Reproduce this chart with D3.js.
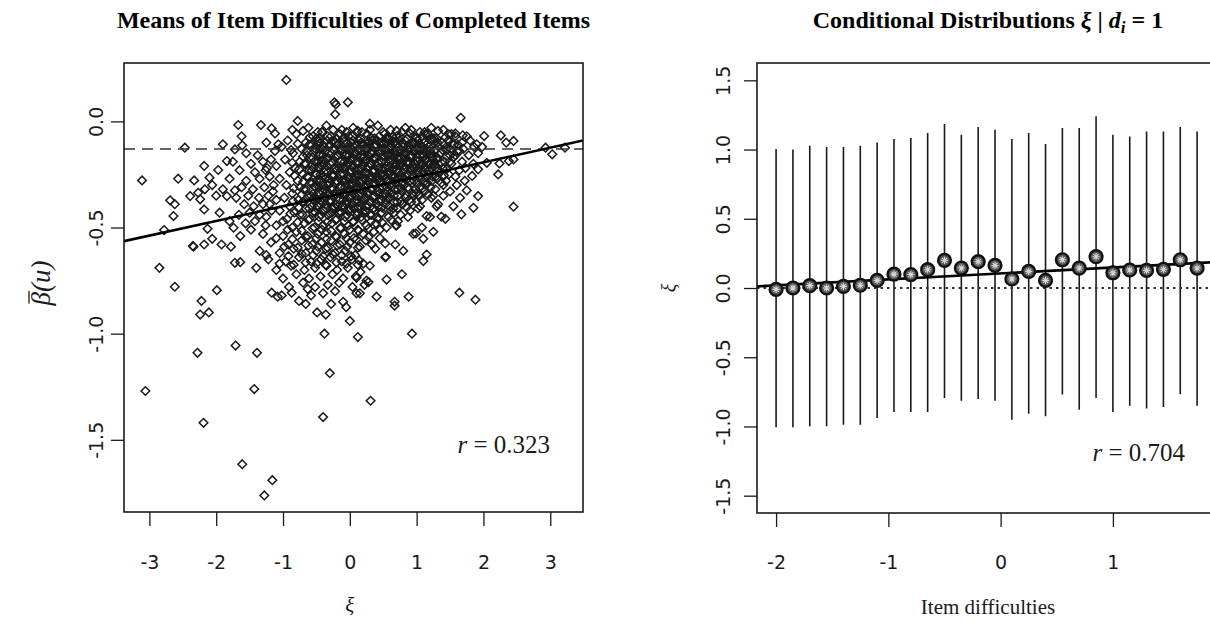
<!DOCTYPE html>
<html>
<head>
<meta charset="utf-8">
<script src="https://cdn.jsdelivr.net/npm/d3@7"></script>
<style>
  body { margin: 0; background: #fff; }
  svg { display: block; }
</style>
</head>
<body>
<svg id="fig" width="1210" height="630"></svg>
<script>
// ---------------- Left panel: mean difficulty of completed items vs. ability ----------------
const xiTicks = [-3, -2, -1, 0, 1, 2, 3];
const betaTicks = [0, -0.5, -1, -1.5];
const betaTickLabels = ["0.0", "-0.5", "-1.0", "-1.5"];
const betaReferenceLevel = -0.13;          // dashed horizontal line
const leftFitCoef = [-0.331, 0.069];        // intercept, slope of the fitted line
const leftCorrelation = "0.323";

// [xi, mean difficulty of completed items]
const itemMeanPoints = [
  // sparse points around the cloud
  [-0.95,0.195],[-0.23,0.09],[-0.21,0.08],[-0.03,0.09],[-0.22,0.033],[-1.67,-0.017],[-1.33,-0.017],
  [-1.17,-0.033],[-0.78,0.002],[-0.86,-0.04],[-1.12,-0.057],[-1.62,-0.07],[-2.47,-0.124],[-1.90,-0.108],
  [-1.61,-0.113],[-1.72,-0.132],[-1.25,-0.10],[-1.07,-0.108],[-3.11,-0.278],[-2.57,-0.27],[-2.33,-0.278],
  [-2.18,-0.21],[-1.84,-0.187],[-2.10,-0.265],[-1.97,-0.229],[-2.69,-0.372],[-2.62,-0.39],[-2.39,-0.352],
  [-2.27,-0.336],[-2.17,-0.32],[-2.06,-0.30],[-2.24,-0.367],[-2.18,-0.415],[-1.90,-0.32],[-1.84,-0.352],
  [-1.72,-0.325],[-2.64,-0.446],[-2.78,-0.512],[-2.35,-0.587],[-2.34,-0.59],[-2.18,-0.58],[-2.06,-0.553],
  [-1.92,-0.58],[-2.13,-0.506],[-1.74,-0.501],[-2.85,-0.69],[-2.62,-0.779],[-1.99,-0.795],[-2.22,-0.846],
  [-2.24,-0.91],[-2.11,-0.90],[-1.71,-1.056],[-2.28,-1.09],[-1.39,-1.09],[-1.78,-0.59],[-1.64,-0.54],
  [-1.72,-0.666],[-1.64,-0.663],[-1.17,-0.807],[-1.08,-0.826],[-0.87,-0.807],[-0.76,-0.846],[-0.63,-0.79],
  [-0.49,-0.90],[-0.36,-0.91],[-0.38,-1.0],[-0.055,-0.875],[0.0,-0.94],
  [-3.06,-1.27],[-1.43,-1.261],[-2.19,-1.42],[-1.61,-1.615],[-1.16,-1.69],[-1.28,-1.762],[-0.40,-1.393],
  [-0.30,-1.186],[0.31,-1.316],[0.12,-1.016],[0.93,-1.0],[0.67,-0.868],[1.88,-0.84],
  [1.64,-0.807],[0.78,-0.72],[0.55,-0.745],[0.28,-0.757],[0.40,-0.826],[0.67,-0.85],[0.88,-0.826],
  [0.10,-0.737],[0.10,-0.81],[1.15,-0.627],[1.10,-0.658],[0.80,-0.61],[0.54,-0.638],[0.53,-0.64],
  [0.14,-0.655],[0.68,-0.58],[0.95,-0.53],[0.99,-0.528],[1.10,-0.553],[0.70,-0.49],[0.33,-0.58],
  [0.53,-0.575],[0.45,-0.55],[1.15,-0.446],[1.37,-0.449],[1.43,-0.459],[1.67,-0.438],
  [1.66,0.017],[2.01,-0.069],[2.26,-0.066],[2.34,-0.10],[2.45,-0.092],[1.48,-0.061],[1.58,-0.057],
  [1.69,-0.066],[1.90,-0.108],[2.93,-0.124],[3.03,-0.155],[3.22,-0.124],[2.24,-0.198],[2.22,-0.25],
  [2.38,-0.187],[2.45,-0.179],[1.75,-0.325],[1.92,-0.352],[1.85,-0.407],[2.45,-0.402],[2.05,-0.195],
  [1.92,-0.226],[1.83,-0.257],[0.30,-0.011],[0.90,-0.057],[1.00,-0.077],[1.13,-0.061],
  [1.92,-0.15],[1.85,-0.20],[1.98,-0.12],[1.72,-0.28],[1.60,-0.30],[1.65,-0.36],[1.55,-0.40],
  [1.40,-0.35],[1.30,-0.40],[1.20,-0.45],[1.08,-0.50],[1.25,-0.52],
  // left arm
  [-1.55,-0.15],[-1.38,-0.16],[-1.75,-0.19],[-1.48,-0.20],[-1.30,-0.19],[-1.18,-0.18],[-1.65,-0.23],
  [-1.42,-0.24],[-1.26,-0.23],[-1.80,-0.27],[-1.55,-0.28],[-1.35,-0.27],[-1.20,-0.26],[-1.62,-0.31],
  [-1.45,-0.32],[-1.28,-0.31],[-2.00,-0.35],[-1.70,-0.36],[-1.52,-0.35],[-1.36,-0.36],[-1.58,-0.39],
  [-1.44,-0.40],[-1.30,-0.39],[-1.95,-0.43],[-1.66,-0.44],[-1.50,-0.43],[-1.80,-0.47],[-1.56,-0.48],
  [-1.42,-0.47],[-1.48,-0.51],[-1.12,-0.14],[-1.24,-0.22],[-1.14,-0.30],[-1.22,-0.35],[-1.10,-0.37],
  [-1.17,-0.42],[-1.35,-0.44],[-1.26,-0.49],
  // dense core
  [-0.62,-0.03],[-0.48,-0.05],[-0.35,-0.02],[-0.12,-0.04],[0.05,-0.03],[0.18,-0.05],[0.42,-0.02],
  [0.61,-0.04],[0.83,-0.03],[1.05,-0.05],[1.22,-0.03],[1.40,-0.04],
  [-0.80,-0.06],[-0.55,-0.07],[-0.41,-0.05],[-0.28,-0.07],[-0.15,-0.06],[-0.02,-0.07],[0.10,-0.05],
  [0.26,-0.06],[0.37,-0.08],[0.52,-0.06],[0.70,-0.07],[0.78,-0.05],[0.95,-0.07],[1.17,-0.06],
  [1.30,-0.08],[1.52,-0.06],[1.75,-0.07],
  [-0.93,-0.09],[-0.66,-0.10],[-0.50,-0.08],[-0.38,-0.10],[-0.24,-0.09],[-0.10,-0.08],[0.02,-0.10],
  [0.14,-0.09],[0.22,-0.11],[0.33,-0.09],[0.47,-0.10],[0.58,-0.08],[0.66,-0.10],[0.74,-0.09],
  [0.88,-0.11],[1.02,-0.09],[1.11,-0.10],[1.26,-0.08],[1.38,-0.10],[1.47,-0.09],[1.62,-0.11],[1.80,-0.09],
  [-1.02,-0.12],[-0.72,-0.13],[-0.58,-0.11],[-0.45,-0.13],[-0.31,-0.12],[-0.19,-0.11],[-0.06,-0.13],
  [0.06,-0.12],[0.17,-0.14],[0.28,-0.12],[0.40,-0.11],[0.53,-0.13],[0.62,-0.12],[0.71,-0.14],
  [0.80,-0.12],[0.92,-0.11],[1.00,-0.13],[1.08,-0.12],[1.20,-0.14],[1.33,-0.12],[1.45,-0.13],
  [1.56,-0.11],[1.70,-0.13],[1.86,-0.12],
  [-0.85,-0.15],[-0.64,-0.16],[-0.52,-0.14],[-0.40,-0.16],[-0.27,-0.15],[-0.13,-0.14],[-0.01,-0.16],
  [0.09,-0.15],[0.21,-0.17],[0.32,-0.15],[0.44,-0.14],[0.56,-0.16],[0.67,-0.15],[0.76,-0.17],
  [0.85,-0.15],[0.97,-0.14],[1.05,-0.16],[1.14,-0.15],[1.24,-0.17],[1.36,-0.15],[1.50,-0.16],
  [1.61,-0.14],[1.78,-0.16],
  [-0.97,-0.18],[-0.75,-0.19],[-0.60,-0.17],[-0.47,-0.19],[-0.34,-0.18],[-0.22,-0.17],[-0.08,-0.19],
  [0.03,-0.18],[0.13,-0.20],[0.25,-0.18],[0.36,-0.17],[0.48,-0.19],[0.59,-0.18],[0.70,-0.20],
  [0.82,-0.18],[0.90,-0.17],[1.02,-0.19],[1.12,-0.18],[1.21,-0.20],[1.30,-0.18],[1.42,-0.19],
  [1.55,-0.17],[1.68,-0.19],
  [-1.10,-0.21],[-0.82,-0.22],[-0.68,-0.20],[-0.55,-0.22],[-0.42,-0.21],[-0.30,-0.20],[-0.16,-0.22],
  [-0.04,-0.21],[0.08,-0.23],[0.19,-0.21],[0.30,-0.20],[0.43,-0.22],[0.55,-0.21],[0.64,-0.23],
  [0.75,-0.21],[0.86,-0.20],[0.95,-0.22],[1.07,-0.21],[1.18,-0.23],[1.27,-0.21],[1.39,-0.22],
  [1.52,-0.20],[1.73,-0.22],
  [-0.90,-0.24],[-0.70,-0.25],[-0.57,-0.23],[-0.44,-0.25],[-0.33,-0.24],[-0.20,-0.23],[-0.09,-0.25],
  [0.01,-0.24],[0.12,-0.26],[0.24,-0.24],[0.35,-0.23],[0.46,-0.25],[0.58,-0.24],[0.68,-0.26],
  [0.79,-0.24],[0.91,-0.23],[1.00,-0.25],[1.10,-0.24],[1.24,-0.26],[1.35,-0.24],[1.48,-0.25],[1.64,-0.23],
  [-1.05,-0.27],[-0.78,-0.28],[-0.63,-0.26],[-0.50,-0.28],[-0.37,-0.27],[-0.25,-0.26],[-0.12,-0.28],
  [-0.02,-0.27],[0.10,-0.29],[0.21,-0.27],[0.33,-0.26],[0.41,-0.28],[0.52,-0.27],[0.63,-0.29],
  [0.73,-0.27],[0.84,-0.26],[0.96,-0.28],[1.06,-0.27],[1.16,-0.29],[1.30,-0.27],[1.44,-0.28],[1.58,-0.26],
  [-0.95,-0.30],[-0.74,-0.31],[-0.59,-0.29],[-0.46,-0.31],[-0.32,-0.30],[-0.21,-0.29],[-0.07,-0.31],
  [0.04,-0.30],[0.16,-0.32],[0.27,-0.30],[0.38,-0.29],[0.50,-0.31],[0.61,-0.30],[0.72,-0.32],
  [0.81,-0.30],[0.93,-0.29],[1.04,-0.31],[1.14,-0.30],[1.28,-0.32],[1.40,-0.30],
  [-1.15,-0.33],[-0.86,-0.34],[-0.69,-0.32],[-0.55,-0.34],[-0.41,-0.33],[-0.28,-0.32],[-0.15,-0.34],
  [-0.03,-0.33],[0.08,-0.35],[0.20,-0.33],[0.31,-0.32],[0.44,-0.34],[0.55,-0.33],[0.66,-0.35],
  [0.78,-0.33],[0.88,-0.32],[0.99,-0.34],[1.12,-0.33],[1.25,-0.35],[1.50,-0.33],
  [-0.98,-0.36],[-0.77,-0.37],[-0.62,-0.35],[-0.49,-0.37],[-0.36,-0.36],[-0.23,-0.35],[-0.10,-0.37],
  [0.01,-0.36],[0.13,-0.38],[0.25,-0.36],[0.37,-0.35],[0.48,-0.37],[0.60,-0.36],[0.71,-0.38],
  [0.83,-0.36],[0.95,-0.35],[1.08,-0.37],[1.22,-0.36],
  [-1.20,-0.39],[-0.90,-0.40],[-0.71,-0.38],[-0.57,-0.40],[-0.44,-0.39],[-0.30,-0.38],[-0.18,-0.40],
  [-0.05,-0.39],[0.06,-0.41],[0.18,-0.39],[0.30,-0.38],[0.42,-0.40],[0.53,-0.39],[0.65,-0.41],
  [0.79,-0.39],[0.92,-0.38],[1.05,-0.40],[1.32,-0.39],
  [-1.05,-0.42],[-0.83,-0.43],[-0.66,-0.41],[-0.52,-0.43],[-0.39,-0.42],[-0.26,-0.41],[-0.13,-0.43],
  [-0.01,-0.42],[0.11,-0.44],[0.23,-0.42],[0.35,-0.41],[0.48,-0.43],[0.61,-0.42],[0.76,-0.44],
  [0.90,-0.42],[1.02,-0.41],
  [-1.25,-0.45],[-0.94,-0.46],[-0.75,-0.44],[-0.60,-0.46],[-0.46,-0.45],[-0.33,-0.44],[-0.20,-0.46],
  [-0.07,-0.45],[0.05,-0.47],[0.17,-0.45],[0.30,-0.44],[0.43,-0.46],[0.58,-0.45],[0.72,-0.47],[0.87,-0.45],
  // dense core, interleaved layer
  [-0.70,-0.045],[-0.42,-0.05],[-0.25,-0.04],[-0.05,-0.05],[0.12,-0.045],[0.30,-0.04],[0.50,-0.05],
  [0.70,-0.045],[0.92,-0.04],[1.12,-0.05],[1.32,-0.045],
  [-0.60,-0.075],[-0.46,-0.08],[-0.33,-0.07],[-0.20,-0.08],[-0.08,-0.075],[0.04,-0.07],[0.16,-0.08],
  [0.31,-0.075],[0.44,-0.07],[0.56,-0.08],[0.64,-0.075],[0.75,-0.07],[0.86,-0.08],[1.00,-0.075],
  [1.08,-0.07],[1.22,-0.08],[1.43,-0.075],[1.58,-0.07],
  [-0.78,-0.105],[-0.61,-0.11],[-0.44,-0.10],[-0.30,-0.11],[-0.17,-0.105],[-0.04,-0.10],[0.09,-0.11],
  [0.19,-0.105],[0.27,-0.10],[0.38,-0.11],[0.51,-0.105],[0.61,-0.10],[0.69,-0.11],[0.79,-0.105],
  [0.94,-0.10],[1.06,-0.11],[1.16,-0.105],[1.31,-0.10],[1.42,-0.11],[1.53,-0.105],[1.68,-0.10],
  [-0.88,-0.135],[-0.65,-0.14],[-0.51,-0.13],[-0.37,-0.14],[-0.24,-0.135],[-0.12,-0.13],[0.00,-0.14],
  [0.11,-0.135],[0.23,-0.13],[0.34,-0.14],[0.46,-0.135],[0.57,-0.13],[0.66,-0.14],[0.75,-0.135],
  [0.86,-0.13],[0.96,-0.14],[1.04,-0.135],[1.15,-0.13],[1.27,-0.14],[1.39,-0.135],[1.51,-0.13],[1.64,-0.14],
  [-0.70,-0.165],[-0.56,-0.17],[-0.45,-0.16],[-0.33,-0.17],[-0.19,-0.165],[-0.06,-0.16],[0.05,-0.17],
  [0.16,-0.165],[0.27,-0.16],[0.38,-0.17],[0.50,-0.165],[0.62,-0.16],[0.72,-0.17],[0.81,-0.165],
  [0.92,-0.16],[1.01,-0.17],[1.10,-0.165],[1.19,-0.16],[1.31,-0.17],[1.45,-0.165],[1.58,-0.16],
  [-0.86,-0.195],[-0.66,-0.20],[-0.53,-0.19],[-0.40,-0.20],[-0.27,-0.195],[-0.14,-0.19],[-0.02,-0.20],
  [0.09,-0.195],[0.20,-0.19],[0.31,-0.20],[0.42,-0.195],[0.54,-0.19],[0.65,-0.20],[0.76,-0.195],
  [0.86,-0.19],[0.97,-0.20],[1.07,-0.195],[1.17,-0.19],[1.26,-0.20],[1.37,-0.195],[1.50,-0.19],
  [-0.76,-0.225],[-0.61,-0.23],[-0.48,-0.22],[-0.36,-0.23],[-0.23,-0.225],[-0.10,-0.22],[0.02,-0.23],
  [0.14,-0.225],[0.25,-0.22],[0.37,-0.23],[0.49,-0.225],[0.60,-0.22],[0.70,-0.23],[0.81,-0.225],
  [0.91,-0.22],[1.02,-0.23],[1.13,-0.225],[1.23,-0.22],[1.33,-0.23],[1.45,-0.225],
  [-0.83,-0.255],[-0.64,-0.26],[-0.50,-0.25],[-0.39,-0.26],[-0.27,-0.255],[-0.14,-0.25],[-0.03,-0.26],
  [0.07,-0.255],[0.18,-0.25],[0.30,-0.26],[0.41,-0.255],[0.52,-0.25],[0.63,-0.26],[0.74,-0.255],
  [0.85,-0.25],[0.96,-0.26],[1.05,-0.255],[1.17,-0.25],[1.29,-0.26],[1.41,-0.255],
  [-0.70,-0.285],[-0.56,-0.29],[-0.43,-0.28],[-0.31,-0.29],[-0.18,-0.285],[-0.07,-0.28],[0.04,-0.29],
  [0.15,-0.285],[0.27,-0.28],[0.37,-0.29],[0.47,-0.285],[0.58,-0.28],[0.68,-0.29],[0.79,-0.285],
  [0.90,-0.28],[1.01,-0.29],[1.11,-0.285],[1.23,-0.28],[1.37,-0.29],
  [-0.84,-0.315],[-0.66,-0.32],[-0.52,-0.31],[-0.39,-0.32],[-0.26,-0.315],[-0.14,-0.31],[-0.01,-0.32],
  [0.10,-0.315],[0.22,-0.31],[0.33,-0.32],[0.44,-0.315],[0.56,-0.31],[0.67,-0.32],[0.77,-0.315],
  [0.87,-0.31],[0.98,-0.32],[1.09,-0.315],[1.21,-0.31],
  [-0.72,-0.345],[-0.58,-0.35],[-0.45,-0.34],[-0.32,-0.35],[-0.21,-0.345],[-0.08,-0.34],[0.03,-0.35],
  [0.14,-0.345],[0.26,-0.34],[0.37,-0.35],[0.50,-0.345],[0.61,-0.34],[0.72,-0.35],[0.84,-0.345],
  [0.94,-0.34],[1.04,-0.35],[1.17,-0.345],
  [-0.85,-0.375],[-0.69,-0.38],[-0.55,-0.37],[-0.42,-0.38],[-0.29,-0.375],[-0.16,-0.37],[-0.04,-0.38],
  [0.07,-0.375],[0.19,-0.37],[0.31,-0.38],[0.43,-0.375],[0.54,-0.37],[0.66,-0.38],[0.77,-0.375],
  [0.89,-0.37],[1.00,-0.38],
  [-0.76,-0.405],[-0.61,-0.41],[-0.48,-0.40],[-0.35,-0.41],[-0.23,-0.405],[-0.11,-0.40],[0.01,-0.41],
  [0.12,-0.405],[0.24,-0.40],[0.36,-0.41],[0.48,-0.405],[0.59,-0.40],[0.71,-0.41],[0.85,-0.405],
  [-0.89,-0.435],[-0.71,-0.44],[-0.56,-0.43],[-0.43,-0.44],[-0.30,-0.435],[-0.17,-0.43],[-0.04,-0.44],
  [0.08,-0.435],[0.20,-0.43],[0.33,-0.44],[0.46,-0.435],[0.66,-0.43],
  [-1.00,-0.47],[-0.78,-0.475],[-0.62,-0.465],[-0.47,-0.47],[-0.34,-0.475],[-0.21,-0.465],[-0.08,-0.47],
  [0.05,-0.475],[0.18,-0.465],[0.32,-0.47],[0.48,-0.475],[0.62,-0.465],
  // darkest part of the core
  [-0.47,-0.095],[-0.34,-0.09],[-0.22,-0.10],[-0.09,-0.095],[0.05,-0.09],[0.17,-0.10],[0.29,-0.095],
  [0.41,-0.09],[0.55,-0.10],[0.68,-0.095],[0.83,-0.09],[0.97,-0.10],[1.13,-0.095],[1.25,-0.09],
  [-0.53,-0.125],[-0.39,-0.12],[-0.26,-0.13],[-0.14,-0.125],[0.00,-0.12],[0.13,-0.13],[0.24,-0.125],
  [0.37,-0.12],[0.49,-0.13],[0.60,-0.125],[0.73,-0.12],[0.89,-0.13],[1.03,-0.125],[1.18,-0.12],[1.29,-0.13],
  [-0.45,-0.155],[-0.32,-0.15],[-0.18,-0.16],[-0.05,-0.155],[0.07,-0.15],[0.19,-0.16],[0.33,-0.155],
  [0.45,-0.15],[0.58,-0.16],[0.70,-0.155],[0.82,-0.15],[0.93,-0.16],[1.09,-0.155],[1.21,-0.15],
  [-0.52,-0.185],[-0.40,-0.18],[-0.27,-0.19],[-0.13,-0.185],[0.00,-0.18],[0.12,-0.19],[0.24,-0.185],
  [0.35,-0.18],[0.47,-0.19],[0.61,-0.185],[0.74,-0.18],[0.88,-0.19],[1.00,-0.185],[1.15,-0.18],[1.27,-0.19],
  [-0.46,-0.215],[-0.34,-0.21],[-0.21,-0.22],[-0.07,-0.215],[0.05,-0.21],[0.17,-0.22],[0.29,-0.215],
  [0.41,-0.21],[0.53,-0.22],[0.67,-0.215],[0.80,-0.21],[0.97,-0.22],[1.11,-0.215],
  [-0.51,-0.245],[-0.38,-0.24],[-0.25,-0.25],[-0.12,-0.245],[0.00,-0.24],[0.11,-0.25],[0.23,-0.245],
  [0.35,-0.24],[0.48,-0.25],[0.60,-0.245],[0.73,-0.24],[0.86,-0.25],[1.02,-0.245],
  [-0.45,-0.275],[-0.31,-0.27],[-0.20,-0.28],[-0.06,-0.275],[0.07,-0.27],[0.18,-0.28],[0.31,-0.275],
  [0.43,-0.27],[0.56,-0.28],[0.69,-0.275],[0.82,-0.27],
  [-0.53,-0.305],[-0.40,-0.30],[-0.27,-0.31],[-0.13,-0.305],[-0.01,-0.30],[0.12,-0.31],[0.24,-0.305],
  [0.37,-0.30],[0.49,-0.31],[0.64,-0.305],
  [-0.47,-0.335],[-0.34,-0.33],[-0.21,-0.34],[-0.08,-0.335],[0.05,-0.33],[0.17,-0.34],[0.28,-0.335],
  [0.41,-0.33],[0.53,-0.34],
  [-0.55,-0.365],[-0.41,-0.36],[-0.29,-0.37],[-0.15,-0.365],[-0.02,-0.36],[0.10,-0.37],[0.22,-0.365],
  [0.34,-0.36],[0.46,-0.37],[0.58,-0.365],
  [-0.48,-0.395],[-0.36,-0.39],[-0.24,-0.40],[-0.10,-0.395],[0.03,-0.39],[0.15,-0.40],[0.27,-0.395],[0.40,-0.39],
  [-0.53,-0.425],[-0.40,-0.42],[-0.27,-0.43],[-0.14,-0.425],[-0.01,-0.42],[0.12,-0.43],[0.25,-0.425],[0.38,-0.42],
  // lower spread
  [-1.10,-0.49],[-0.86,-0.50],[-0.68,-0.48],[-0.53,-0.50],[-0.40,-0.49],[-0.27,-0.48],[-0.14,-0.50],
  [-0.02,-0.49],[0.12,-0.51],[0.25,-0.49],[0.39,-0.48],[0.55,-0.50],[0.69,-0.49],
  [-0.93,-0.51],[-0.72,-0.515],[-0.56,-0.505],[-0.42,-0.51],[-0.28,-0.515],[-0.14,-0.505],[0.00,-0.51],
  [0.13,-0.515],[0.28,-0.505],[0.45,-0.51],
  [-1.30,-0.53],[-1.00,-0.54],[-0.80,-0.52],[-0.63,-0.54],[-0.48,-0.53],[-0.35,-0.52],[-0.21,-0.54],
  [-0.08,-0.53],[0.06,-0.55],[0.20,-0.53],[0.36,-0.52],
  [-1.10,-0.55],[-0.86,-0.555],[-0.66,-0.545],[-0.50,-0.55],[-0.35,-0.555],[-0.20,-0.545],[-0.05,-0.55],
  [0.10,-0.555],[0.28,-0.545],
  [-1.18,-0.57],[-0.92,-0.58],[-0.72,-0.56],[-0.56,-0.58],[-0.42,-0.57],[-0.28,-0.56],[-0.15,-0.58],
  [0.00,-0.57],[0.15,-0.59],[0.24,-0.56],
  [-0.98,-0.59],[-0.78,-0.595],[-0.62,-0.585],[-0.48,-0.59],[-0.33,-0.595],[-0.19,-0.585],[-0.04,-0.59],
  [0.12,-0.595],
  [-1.35,-0.61],[-1.05,-0.62],[-0.84,-0.60],[-0.66,-0.62],[-0.50,-0.61],[-0.36,-0.60],[-0.22,-0.62],
  [-0.07,-0.61],[0.08,-0.63],[0.38,-0.60],
  [-1.25,-0.63],[-0.92,-0.635],[-0.72,-0.625],[-0.55,-0.63],[-0.40,-0.635],[-0.26,-0.625],[-0.12,-0.63],
  [0.02,-0.635],
  [-1.22,-0.65],[-0.96,-0.66],[-0.76,-0.64],[-0.58,-0.66],[-0.43,-0.65],[-0.29,-0.64],[-0.12,-0.66],
  [0.03,-0.65],[0.20,-0.67],
  [-1.05,-0.67],[-0.84,-0.675],[-0.66,-0.665],[-0.50,-0.67],[-0.36,-0.675],[-0.20,-0.665],[-0.05,-0.67],
  [0.12,-0.675],
  [-1.40,-0.69],[-1.10,-0.70],[-0.88,-0.68],[-0.68,-0.70],[-0.52,-0.69],[-0.35,-0.68],[-0.19,-0.70],
  [-0.03,-0.69],[0.16,-0.71],[0.30,-0.68],
  [-1.00,-0.74],[-0.80,-0.72],[-0.61,-0.74],[-0.44,-0.73],[-0.26,-0.72],[-0.10,-0.74],[0.09,-0.73],[0.25,-0.75],
  [-0.91,-0.78],[-0.70,-0.76],[-0.52,-0.78],[-0.33,-0.77],[-0.16,-0.76],[0.04,-0.78],[0.22,-0.77],
  [-1.02,-0.82],[-0.58,-0.82],[-0.40,-0.81],[-0.22,-0.80],[0.15,-0.81],
  [-0.66,-0.86],[-0.28,-0.86],[-0.10,-0.85]
];

// ---------------- Right panel: conditional distributions of xi given a solved item ----------------
const itemDifficulty = [-2.00,-1.85,-1.70,-1.55,-1.40,-1.25,-1.10,-0.95,-0.80,-0.65,-0.50,-0.35,-0.20,
                        -0.05,0.10,0.25,0.40,0.55,0.70,0.85,1.00,1.15,1.30,1.45,1.60,1.75];
const condMean  = [-0.010,0.000,0.017,0.000,0.012,0.020,0.055,0.100,0.097,0.132,0.200,0.144,0.190,
                   0.163,0.065,0.120,0.055,0.204,0.144,0.226,0.110,0.130,0.127,0.135,0.204,0.144];
const condUpper = [1.003,1.000,1.027,1.018,1.018,1.027,1.050,1.076,1.083,1.120,1.184,1.107,1.163,
                   1.143,1.076,1.120,1.040,1.155,1.155,1.240,1.107,1.095,1.130,1.130,1.163,1.130];
const condLower = [-1.006,-1.006,-0.999,-0.999,-0.987,-0.987,-0.939,-0.895,-0.895,-0.895,-0.794,-0.814,-0.802,
                   -0.814,-0.951,-0.908,-0.927,-0.770,-0.879,-0.794,-0.895,-0.850,-0.871,-0.860,-0.768,-0.850];
const difficultyTicks = [-2, -1, 0, 1];
const condTicks = [1.5, 1, 0.5, 0, -0.5, -1, -1.5];
const condTickLabels = ["1.5", "1.0", "0.5", "0.0", "-0.5", "-1.0", "-1.5"];
const rightFitCoef = [0.105, 0.043];
const rightCorrelation = "0.704";

// ---------------- drawing ----------------
const SERIF = "'Liberation Serif','Times New Roman',serif";
const SANS = "'DejaVu Sans','Liberation Sans',sans-serif";
const INK = "#1a1a1a";

const svg = d3.select("#fig");
const defs = svg.append("defs");

function styleAxis(g) {
  g.select(".domain").remove();
  g.selectAll(".tick line").attr("stroke", INK).attr("stroke-width", 1.3);
  g.selectAll(".tick text").attr("fill", INK).attr("font-family", SANS).attr("font-size", 19);
}

/* ===== left panel ===== */
const L = { left: 124, right: 583, top: 63, bottom: 512 };
const xL = d3.scaleLinear().domain([-3.38, 3.49]).range([L.left, L.right]);
const yL = d3.scaleLinear().domain([-1.84, 0.275]).range([L.bottom, L.top]);

defs.append("clipPath").attr("id", "clipL").append("rect")
  .attr("x", L.left).attr("y", L.top).attr("width", L.right - L.left).attr("height", L.bottom - L.top);

const gL = svg.append("g");
const plotL = gL.append("g").attr("clip-path", "url(#clipL)");

plotL.selectAll("path.pt").data(itemMeanPoints).join("path")
  .attr("class", "pt")
  .attr("d", "M0,-4.3L4.3,0L0,4.3L-4.3,0Z")
  .attr("transform", d => `translate(${xL(d[0])},${yL(d[1])})`)
  .attr("fill", "none").attr("stroke", INK).attr("stroke-width", 1.5);

plotL.append("line")
  .attr("x1", L.left).attr("x2", L.right)
  .attr("y1", yL(betaReferenceLevel)).attr("y2", yL(betaReferenceLevel))
  .attr("stroke", "#333").attr("stroke-width", 1.6).attr("stroke-dasharray", "11,7");

const [aL, bL] = leftFitCoef;
const xLd = xL.domain();
plotL.append("line")
  .attr("x1", xL(xLd[0])).attr("y1", yL(aL + bL * xLd[0]))
  .attr("x2", xL(xLd[1])).attr("y2", yL(aL + bL * xLd[1]))
  .attr("stroke", "#000").attr("stroke-width", 2.6);

gL.append("rect")
  .attr("x", L.left).attr("y", L.top).attr("width", L.right - L.left).attr("height", L.bottom - L.top)
  .attr("fill", "none").attr("stroke", INK).attr("stroke-width", 1.6);

gL.append("g").attr("transform", `translate(0,${L.bottom})`)
  .call(d3.axisBottom(xL).tickValues(xiTicks).tickSize(14).tickFormat(d => String(d)))
  .call(styleAxis)
  .call(g => g.selectAll(".tick text").attr("y", 50).attr("dy", "0.35em"));

gL.append("g").attr("transform", `translate(${L.left},0)`)
  .call(d3.axisLeft(yL).tickValues(betaTicks).tickSize(13).tickFormat((d, i) => betaTickLabels[i]))
  .call(styleAxis)
  .call(g => g.selectAll(".tick text")
    .attr("transform", "rotate(-90)").attr("x", 0).attr("y", -28)
    .attr("dy", "0.35em").attr("text-anchor", "middle"));

gL.append("text")
  .attr("x", (L.left + L.right) / 2).attr("y", 28).attr("text-anchor", "middle")
  .attr("font-family", SERIF).attr("font-weight", "bold").attr("font-size", 24).attr("fill", "#000")
  .text("Means of Item Difficulties of Completed Items");

gL.append("text")
  .attr("x", xL(0)).attr("y", 612).attr("text-anchor", "middle")
  .attr("font-family", SERIF).attr("font-style", "italic").attr("font-size", 21).attr("fill", INK)
  .text("ξ");

// y label: beta with an overbar, then (u)
const ylabL = gL.append("g").attr("transform", "translate(50,283) rotate(-90)");
const ylabText = ylabL.append("text").attr("text-anchor", "middle")
  .attr("font-family", SERIF).attr("font-style", "italic").attr("font-size", 27).attr("fill", INK)
  .text("β(u)");
{
  const ext = ylabText.node().getExtentOfChar(0);
  ylabL.append("line")
    .attr("x1", ext.x + 2).attr("x2", ext.x + ext.width + 1)
    .attr("y1", -21).attr("y2", -21)
    .attr("stroke", INK).attr("stroke-width", 1.3);
}

const rTextL = gL.append("text")
  .attr("x", 550).attr("y", 453).attr("text-anchor", "end")
  .attr("font-family", SERIF).attr("font-size", 25).attr("fill", INK);
rTextL.append("tspan").attr("font-style", "italic").text("r");
rTextL.append("tspan").text(" = " + leftCorrelation);

/* ===== right panel ===== */
const R = { left: 757, right: 1219, top: 63, bottom: 513 };
const xR = d3.scaleLinear().domain([-2.17, 1.945]).range([R.left, R.right]);
const yR = d3.scaleLinear().domain([-1.625, 1.625]).range([R.bottom, R.top]);

defs.append("clipPath").attr("id", "clipR").append("rect")
  .attr("x", R.left).attr("y", R.top).attr("width", R.right - R.left).attr("height", R.bottom - R.top);

const gR = svg.append("g");
const plotR = gR.append("g").attr("clip-path", "url(#clipR)");

const condData = itemDifficulty.map((d, i) => ({ d, m: condMean[i], lo: condLower[i], hi: condUpper[i] }));

plotR.selectAll("line.stem").data(condData).join("line")
  .attr("class", "stem")
  .attr("x1", c => xR(c.d)).attr("x2", c => xR(c.d))
  .attr("y1", c => yR(c.hi)).attr("y2", c => yR(c.lo))
  .attr("stroke", INK).attr("stroke-width", 1.6);

plotR.append("line")
  .attr("x1", R.left).attr("x2", R.right).attr("y1", yR(0)).attr("y2", yR(0))
  .attr("stroke", "#333").attr("stroke-width", 1.8).attr("stroke-dasharray", "2.5,4");

const [aR, bR] = rightFitCoef;
const xRd = xR.domain();
plotR.append("line")
  .attr("x1", xR(xRd[0])).attr("y1", yR(aR + bR * xRd[0]))
  .attr("x2", xR(xRd[1])).attr("y2", yR(aR + bR * xRd[1]))
  .attr("stroke", "#000").attr("stroke-width", 2.6);

const marks = plotR.selectAll("g.mk").data(condData).join("g")
  .attr("class", "mk")
  .attr("transform", c => `translate(${xR(c.d)},${yR(c.m)})`);
marks.append("circle").attr("r", 6.4)
  .attr("fill", "#5a5a5a").attr("stroke", "#111").attr("stroke-width", 2.4);
marks.append("path")
  .attr("d", "M-3.6,0H3.6M0,-3.6V3.6M-2.5,-2.5L2.5,2.5M-2.5,2.5L2.5,-2.5")
  .attr("stroke", "#d8d8d8").attr("stroke-width", 1.1);

gR.append("rect")
  .attr("x", R.left).attr("y", R.top).attr("width", R.right - R.left).attr("height", R.bottom - R.top)
  .attr("fill", "none").attr("stroke", INK).attr("stroke-width", 1.6);

gR.append("g").attr("transform", `translate(0,${R.bottom})`)
  .call(d3.axisBottom(xR).tickValues(difficultyTicks).tickSize(14).tickFormat(d => String(d)))
  .call(styleAxis)
  .call(g => g.selectAll(".tick text").attr("y", 49).attr("dy", "0.35em"));

gR.append("g").attr("transform", `translate(${R.left},0)`)
  .call(d3.axisLeft(yR).tickValues(condTicks).tickSize(13).tickFormat((d, i) => condTickLabels[i]))
  .call(styleAxis)
  .call(g => g.selectAll(".tick text")
    .attr("transform", "rotate(-90)").attr("x", 0).attr("y", -34)
    .attr("dy", "0.35em").attr("text-anchor", "middle"));

const titleR = gR.append("text")
  .attr("x", (R.left + R.right) / 2).attr("y", 28).attr("text-anchor", "middle")
  .attr("font-family", SERIF).attr("font-weight", "bold").attr("font-size", 24).attr("fill", "#000");
titleR.append("tspan").text("Conditional Distributions ");
titleR.append("tspan").attr("font-style", "italic").text("ξ");
titleR.append("tspan").text(" | ");
titleR.append("tspan").attr("font-style", "italic").text("d");
titleR.append("tspan").attr("font-style", "italic").attr("font-size", 17).attr("dy", 5).text("i");
titleR.append("tspan").attr("dy", -5).text(" = 1");

gR.append("text")
  .attr("x", (R.left + R.right) / 2).attr("y", 614).attr("text-anchor", "middle")
  .attr("font-family", SERIF).attr("font-size", 21).attr("fill", INK)
  .text("Item difficulties");

gR.append("text")
  .attr("transform", `translate(676,${yR(0)}) rotate(-90)`).attr("text-anchor", "middle")
  .attr("font-family", SERIF).attr("font-style", "italic").attr("font-size", 20).attr("fill", INK)
  .text("ξ");

const rTextR = gR.append("text")
  .attr("x", 1185).attr("y", 461).attr("text-anchor", "end")
  .attr("font-family", SERIF).attr("font-size", 25).attr("fill", INK);
rTextR.append("tspan").attr("font-style", "italic").text("r");
rTextR.append("tspan").text(" = " + rightCorrelation);
</script>
</body>
</html>
